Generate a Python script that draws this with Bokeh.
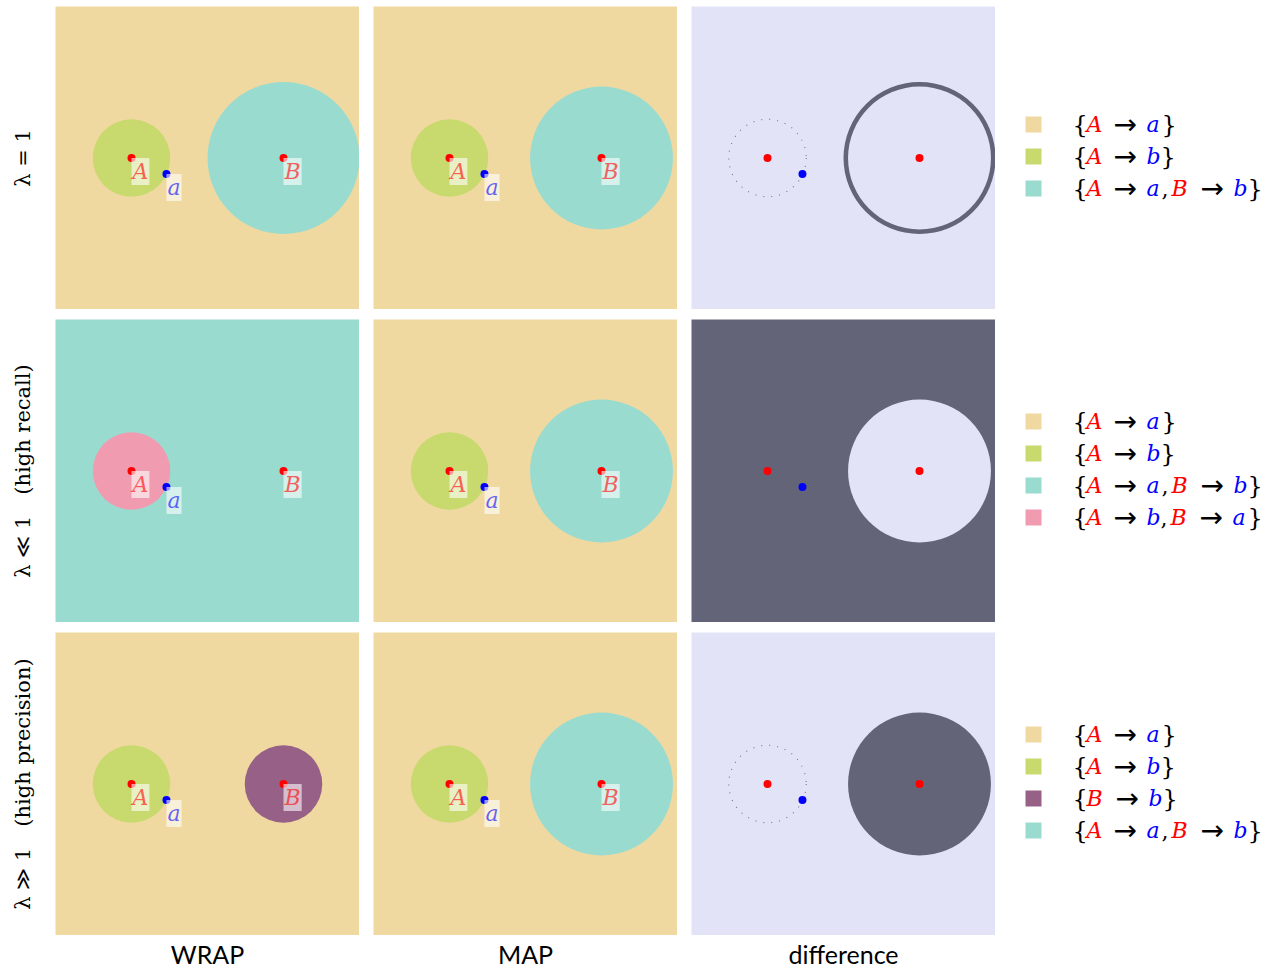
import math
from bokeh.plotting import figure
from bokeh.models import Range1d, Label, ColumnDataSource, Spacer
from bokeh.layouts import row, column
from bokeh.core.properties import value
from bokeh.embed import file_html
from bokeh.resources import INLINE

# ---------------- data ----------------
POINT_NAMES = ["A", "B", "a"]
POINT_X = [-1.0, 1.0, -0.54]
POINT_Y = [0.0, 0.0, -0.21]
POINT_COLORS = ["#ff0000", "#ff0000", "#0000ff"]

ALIGN_COLORS = {
    "Aa": "#F0D9A0",
    "Ab": "#C8D96E",
    "AaBb": "#9ADBD0",
    "AbBa": "#F09BAF",
    "Bb": "#966087",
}
DIFF_COLORS = {"same": "#E3E3F7", "diff": "#646478"}

# WRAP panels (one entry per row)
WRAP_BG = ["Aa", "AaBb", "Aa"]
WRAP_DISC_KEYS = [["Ab", "AaBb"], ["AbBa"], ["Ab", "Bb"]]
WRAP_DISC_AT = [["A", "B"], ["A"], ["A", "B"]]
WRAP_DISC_R = [[0.51, 1.0], [0.51], [0.51, 0.51]]

# MAP panels (identical for all rows)
MAP_BG = "Aa"
MAP_DISC_KEYS = ["Ab", "AaBb"]
MAP_DISC_AT = ["A", "B"]
MAP_DISC_R = [0.51, 0.94]

# difference panels
DIFF_BG = ["same", "diff", "same"]
DIFF_RING = [("B", 0.94, 1.0), None, None]
DIFF_DISC = [None, ("B", 0.94, "same"), ("B", 0.94, "diff")]
DIFF_DOTTED = [("A", 0.51), None, ("A", 0.51)]

ROW_LABELS = ["λ = 1", "λ ≪ 1\u2003(high recall)", "λ ≫ 1\u2003(high precision)"]
COL_LABELS = ["WRAP", "MAP", "difference"]

LEGEND_KEYS = [["Aa", "Ab", "AaBb"], ["Aa", "Ab", "AaBb", "AbBa"], ["Aa", "Ab", "Bb", "AaBb"]]
LEGEND_PIECES = {
    "Aa": ["{", "A", "→", "a", "}"],
    "Ab": ["{", "A", "→", "b", "}"],
    "Bb": ["{", "B", "→", "b", "}"],
    "AaBb": ["{", "A", "→", "a", ",", "B", "→", "b", "}"],
    "AbBa": ["{", "A", "→", "b", ",", "B", "→", "a", "}"],
}

# ---------------- style ----------------
PANEL_W, PANEL_H = 304, 303
GAP_X, GAP_Y = 14, 10
TOP_PAD = 6
ROWLAB_W = 55
LEG_W = 271
BOTTOM_H = 34

PX = dict(zip(POINT_NAMES, POINT_X))
PY = dict(zip(POINT_NAMES, POINT_Y))

ADVANCE = {"{": 14, "A": 27, "B": 29, "→": 33, "a": 15, "b": 14, ",": 10, "}": 0}


def piece_style(ch):
    if ch in ("A", "B"):
        return "#ff0000", "italic", "DejaVu Serif", "22px"
    if ch in ("a", "b"):
        return "#0000ff", "italic", "DejaVu Serif", "22px"
    if ch == "→":
        return "#000000", "normal", "DejaVu Sans", "28px"
    if ch in ("{", "}"):
        return "#000000", "normal", "DejaVu Serif", "24px"
    return "#000000", "normal", "DejaVu Serif", "22px"


def base_fig(w, h, xr, yr, bg="white"):
    p = figure(width=w, height=h, x_range=Range1d(*xr), y_range=Range1d(*yr),
               output_backend="svg", toolbar_location=None,
               x_axis_location=None, y_axis_location=None,
               min_border=0, min_border_left=0, min_border_right=0,
               min_border_top=0, min_border_bottom=0,
               outline_line_color=None, background_fill_color=bg,
               border_fill_color="white")
    p.xgrid.visible = False
    p.ygrid.visible = False
    return p


def add_points(p, labels):
    p.scatter(POINT_X, POINT_Y, size=8, fill_color=POINT_COLORS, line_color=None)
    if labels:
        for n, x, y, c in zip(POINT_NAMES, POINT_X, POINT_Y, POINT_COLORS):
            p.add_layout(Label(x=x, y=y, text=n, text_font="DejaVu Serif",
                               text_font_style="italic", text_font_size="22px",
                               text_color=c, text_alpha=0.6, text_align="left",
                               text_baseline="top", background_fill_color="white",
                               background_fill_alpha=0.6, padding=1))


def region_panel(bg_key, keys, at, radii):
    p = base_fig(PANEL_W, PANEL_H, (-2, 2), (-2, 2), ALIGN_COLORS[bg_key])
    src = ColumnDataSource(dict(x=[PX[n] for n in at], y=[PY[n] for n in at],
                                r=radii, c=[ALIGN_COLORS[k] for k in keys]))
    p.circle("x", "y", radius="r", fill_color="c", line_color=None, source=src)
    add_points(p, True)
    return p


def diff_panel(r):
    p = base_fig(PANEL_W, PANEL_H, (-2, 2), (-2, 2), DIFF_COLORS[DIFF_BG[r]])
    if DIFF_RING[r]:
        n, ri, ro = DIFF_RING[r]
        p.annulus(x=[PX[n]], y=[PY[n]], inner_radius=ri, outer_radius=ro,
                  fill_color=DIFF_COLORS["diff"], line_color=None)
    if DIFF_DISC[r]:
        n, rr, k = DIFF_DISC[r]
        p.circle(x=[PX[n]], y=[PY[n]], radius=rr, fill_color=DIFF_COLORS[k], line_color=None)
    if DIFF_DOTTED[r]:
        n, rr = DIFF_DOTTED[r]
        p.circle(x=[PX[n]], y=[PY[n]], radius=rr, fill_color=None,
                 line_color="#777788", line_width=1.1, line_dash="1 7")
    add_points(p, False)
    return p


def row_label(r):
    p = base_fig(ROWLAB_W, PANEL_H, (0, ROWLAB_W), (0, PANEL_H))
    p.text(x=[22], y=[PANEL_H / 2], text=[ROW_LABELS[r]], angle=math.pi / 2,
           text_align="center", text_baseline="middle",
           text_font=value("DejaVu Serif"), text_font_size="21px", text_color="black")
    return p


def legend(r):
    p = base_fig(LEG_W, PANEL_H, (0, LEG_W), (0, PANEL_H))
    keys = LEGEND_KEYS[r]
    n = len(keys)
    ys = [PANEL_H / 2 + 1.5 + ((n - 1) / 2 - i) * 32 for i in range(n)]
    p.scatter([38] * n, ys, marker="square", size=16,
              fill_color=[ALIGN_COLORS[k] for k in keys], line_color=None)
    d = dict(x=[], y=[], t=[], c=[], s=[], f=[], z=[])
    for k, y in zip(keys, ys):
        x = 77
        for ch in LEGEND_PIECES[k]:
            c, s, f, z = piece_style(ch)
            d["x"].append(x); d["y"].append(y); d["t"].append(ch)
            d["c"].append(c); d["s"].append(s); d["f"].append(f); d["z"].append(z)
            x += ADVANCE[ch]
    p.text("x", "y", text="t", text_color="c", text_font_style="s", text_font="f",
           text_font_size="z", text_align="left", text_baseline="middle",
           source=ColumnDataSource(d))
    return p


def col_label(c):
    p = base_fig(PANEL_W, BOTTOM_H, (0, PANEL_W), (0, BOTTOM_H))
    p.text(x=[PANEL_W / 2], y=[BOTTOM_H - 18], text=[COL_LABELS[c]], text_align="center",
           text_baseline="middle", text_font=value("Lato"),
           text_font_size="25px", text_color="black")
    return p


rows = [Spacer(width=10, height=TOP_PAD)]
for r in range(3):
    wrap = region_panel(WRAP_BG[r], WRAP_DISC_KEYS[r], WRAP_DISC_AT[r], WRAP_DISC_R[r])
    mp = region_panel(MAP_BG, MAP_DISC_KEYS, MAP_DISC_AT, MAP_DISC_R)
    df = diff_panel(r)
    rows.append(row(row_label(r), wrap, Spacer(width=GAP_X, height=PANEL_H), mp,
                    Spacer(width=GAP_X, height=PANEL_H), df, legend(r)))
    if r < 2:
        rows.append(Spacer(width=10, height=GAP_Y))

rows.append(row(Spacer(width=ROWLAB_W, height=BOTTOM_H), col_label(0),
                Spacer(width=GAP_X, height=BOTTOM_H), col_label(1),
                Spacer(width=GAP_X, height=BOTTOM_H), col_label(2)))

layout = column(*rows)
open("out.html", "w").write(file_html(layout, INLINE))
